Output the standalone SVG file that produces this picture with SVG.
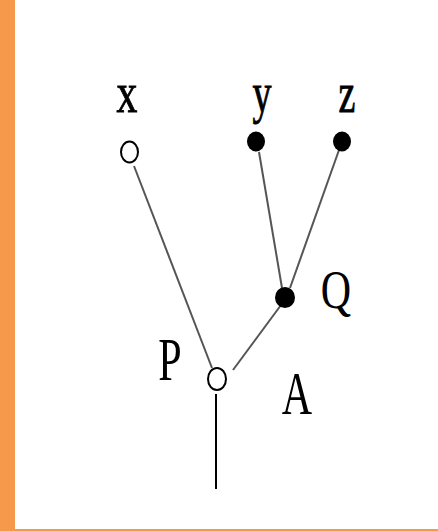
<svg xmlns="http://www.w3.org/2000/svg" width="438" height="531" viewBox="0 0 438 531">
<style>
.lbl{font-family:"Liberation Serif","Times New Roman",serif;font-size:38px;fill:#000;stroke:#000;stroke-width:0.6;text-anchor:middle}
.big{font-family:"Liberation Serif","Times New Roman",serif;font-size:42px;fill:#000;text-anchor:middle}
.edge{stroke:#555;stroke-width:2;fill:none}
.open{fill:#fff;stroke:#000;stroke-width:2}
.fill{fill:#000}
</style>
<rect x="0" y="0" width="438" height="531" fill="#fff"/>
<rect x="0" y="0" width="15" height="531" fill="#f7994a"/>
<rect x="0" y="529" width="438" height="2" fill="#f7994a"/>
<g id="connectors">
<line class="edge" x1="134" y1="166" x2="212" y2="368"/>
<line class="edge" x1="233" y1="370" x2="281" y2="305"/>
<line class="edge" x1="259" y1="152" x2="282" y2="288"/>
<line class="edge" x1="339" y1="150" x2="290" y2="288"/>
<line x1="216" y1="394" x2="216" y2="489" stroke="#000" stroke-width="2"/>
</g>
<g id="node-x">
<text class="lbl" transform="translate(127,112) scale(1.1,1.5)">x</text>
<ellipse class="open" cx="129.5" cy="152" rx="8.5" ry="10.5"/>
</g>
<g id="node-y">
<text class="lbl" transform="translate(262,112) scale(1,1.5)">y</text>
<ellipse class="fill" cx="256" cy="141.5" rx="9" ry="10"/>
</g>
<g id="node-z">
<text class="lbl" transform="translate(347,112) scale(1,1.5)">z</text>
<ellipse class="fill" cx="342" cy="141.5" rx="9" ry="10"/>
</g>
<g id="node-Q">
<ellipse class="fill" cx="285" cy="297.5" rx="10" ry="10.5"/>
<text class="big" transform="translate(336,308) scale(1,1.3)">Q</text>
</g>
<g id="node-P">
<text class="big" transform="translate(170,380) scale(1,1.45)">P</text>
<ellipse class="open" cx="217" cy="379" rx="9" ry="11"/>
</g>
<g id="node-A">
<text class="big" transform="translate(297,414) scale(1,1.45)">A</text>
</g>
</svg>
